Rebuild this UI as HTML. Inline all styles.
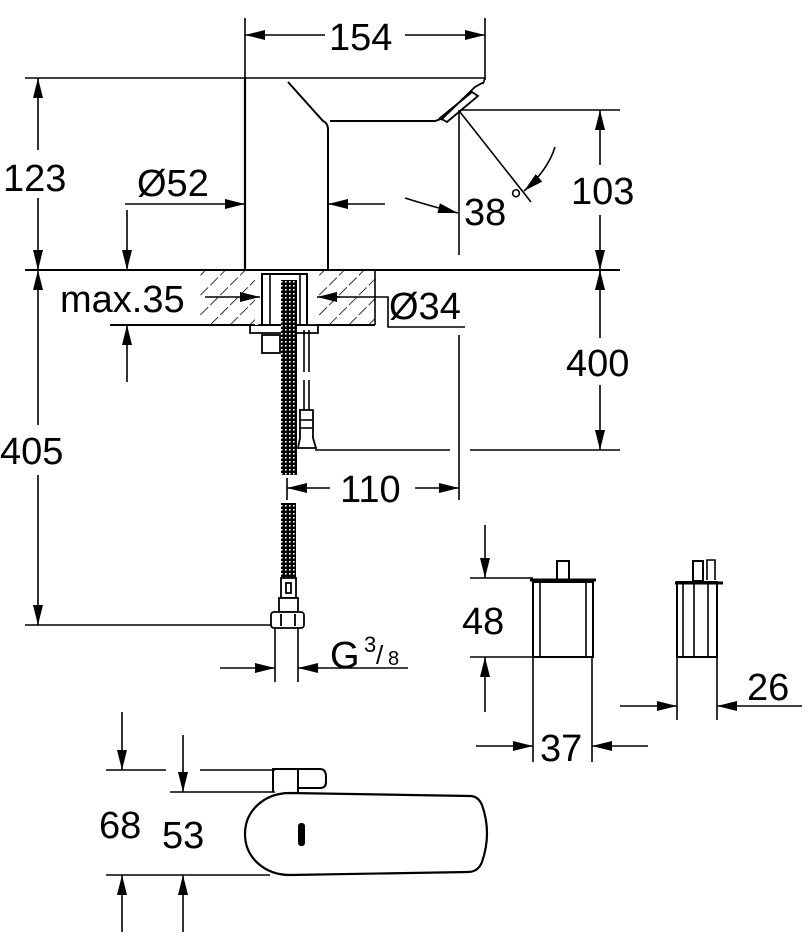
<!DOCTYPE html>
<html><head><meta charset="utf-8"><style>
html,body{margin:0;padding:0;background:#fff;}
svg{display:block;}
text{font-family:"Liberation Sans",Arial,sans-serif;fill:#000;}
</style></head><body>
<svg width="812" height="942" viewBox="0 0 812 942" xmlns="http://www.w3.org/2000/svg">
<defs>
<marker id="a" viewBox="0 0 20 10" refX="20" refY="5" markerWidth="20" markerHeight="10" markerUnits="userSpaceOnUse" orient="auto"><path d="M0,0 L20,5 L0,10 z" fill="#000"/></marker>
<pattern id="braid" width="4" height="4" patternUnits="userSpaceOnUse"><rect width="4" height="4" fill="#000"/><rect x="1" y="1" width="1.6" height="1.6" fill="#fff"/></pattern>
<pattern id="hatch" width="14" height="14" patternUnits="userSpaceOnUse" patternTransform="rotate(45)"><line x1="0" y1="0" x2="0" y2="14" stroke="#000" stroke-width="1.6" stroke-dasharray="11 3"/></pattern>
</defs>
<g stroke="#000" stroke-width="1.6" fill="none">
<line x1="245" y1="18" x2="245" y2="270"/>
<line x1="485" y1="18" x2="485" y2="80"/>
<line x1="325" y1="35" x2="245" y2="35" marker-end="url(#a)"/>
<line x1="405" y1="35" x2="485" y2="35" marker-end="url(#a)"/>
<path d="M245,78 L485,78 L483,84"/>
<path d="M288,82 L323,121 Q328,123 328,130 L328,270" stroke-width="2"/>
<path d="M330,121 L435,121 Q440,120 445,115" stroke-width="2"/>
<path d="M441,120 L475,87 L484,82 M447,122 L478,96 L472,92 L440,118 Z" stroke-width="1.8"/>
<line x1="245" y1="78" x2="245" y2="270" stroke-width="2.2"/>
<line x1="25" y1="78" x2="245" y2="78"/>
<line x1="38" y1="150" x2="38" y2="78" marker-end="url(#a)"/>
<line x1="38" y1="198" x2="38" y2="270" marker-end="url(#a)"/>
<line x1="125" y1="204" x2="245" y2="204" marker-end="url(#a)"/>
<line x1="385" y1="204" x2="328" y2="204" marker-end="url(#a)"/>
<line x1="460" y1="110" x2="620" y2="110"/>
<line x1="600" y1="165" x2="600" y2="110" marker-end="url(#a)"/>
<line x1="600" y1="215" x2="600" y2="270" marker-end="url(#a)"/>
<line x1="459" y1="110" x2="459" y2="255"/>
<line x1="460" y1="112" x2="531" y2="202"/>
<path d="M405,198 Q430,206 458,213" marker-end="url(#a)"/>
<path d="M555,147 Q548,170 524,191" marker-end="url(#a)"/>
<line x1="25" y1="270" x2="620" y2="270" stroke-width="2"/>
<rect x="200" y="271" width="175" height="54" fill="url(#hatch)" stroke="none"/>
<line x1="110" y1="325" x2="375" y2="325" stroke-width="2"/>
<rect x="255" y="271" width="62" height="54" fill="#fff" stroke="none"/>
<rect x="262" y="274" width="45" height="51" stroke-width="2"/>
<line x1="270" y1="275" x2="270" y2="325"/>
<line x1="300" y1="275" x2="300" y2="325"/>
<path d="M250,325 L250,333 L258,333 M258,325 L318,325 L318,333 L258,333" stroke-width="1.8"/>
<rect x="262" y="335" width="18" height="18" stroke-width="1.8"/>
<line x1="375" y1="270" x2="375" y2="325"/>
<line x1="127" y1="210" x2="127" y2="270" marker-end="url(#a)"/>
<line x1="127" y1="382" x2="127" y2="325" marker-end="url(#a)"/>
<line x1="205" y1="297" x2="260" y2="297" marker-end="url(#a)"/>
<line x1="340" y1="297" x2="317" y2="297" marker-end="url(#a)"/>
<path d="M335,297 L388,297 L388,327 L465,327"/>
<line x1="600" y1="338" x2="600" y2="270" marker-end="url(#a)"/>
<line x1="600" y1="385" x2="600" y2="450" marker-end="url(#a)"/>
<line x1="315" y1="450" x2="450" y2="450"/>
<line x1="470" y1="450" x2="620" y2="450"/>
<line x1="459" y1="335" x2="459" y2="500"/>
<line x1="330" y1="488" x2="287" y2="488" marker-end="url(#a)"/>
<line x1="415" y1="488" x2="459" y2="488" marker-end="url(#a)"/>
<line x1="287" y1="478" x2="287" y2="500"/>
<line x1="38" y1="425" x2="38" y2="270" marker-end="url(#a)"/>
<line x1="38" y1="475" x2="38" y2="625" marker-end="url(#a)"/>
<line x1="25" y1="625" x2="275" y2="625"/>
<line x1="304" y1="330" x2="304" y2="372"/>
<line x1="309" y1="330" x2="309" y2="372"/>
<line x1="304" y1="380" x2="304" y2="410"/>
<line x1="309" y1="380" x2="309" y2="410"/>
<path d="M300,410 L313,410 L313,438 L316,448 L298,448 L300,438 Z" fill="#fff" stroke-width="1.8"/>
<line x1="301" y1="420" x2="312" y2="420"/><line x1="301" y1="428" x2="312" y2="428"/>
</g>
<rect x="281" y="280" width="16" height="195" fill="url(#braid)"/>
<rect x="281" y="503" width="15" height="78" fill="url(#braid)"/>
<g stroke="#000" stroke-width="1.8" fill="#fff">
<rect x="281" y="578" width="15" height="20"/>
<rect x="286" y="583" width="5" height="10"/>
<rect x="279" y="598" width="19" height="14"/>
<rect x="271" y="612" width="33" height="16" rx="3"/>
<line x1="281" y1="614" x2="281" y2="626"/><line x1="295" y1="614" x2="295" y2="626"/>
</g>
<g stroke="#000" stroke-width="1.6" fill="none">
<line x1="275" y1="628" x2="275" y2="682"/>
<line x1="298" y1="628" x2="298" y2="682"/>
<line x1="220" y1="668" x2="275" y2="668" marker-end="url(#a)"/>
<line x1="408" y1="668" x2="298" y2="668" marker-end="url(#a)"/>
<rect x="533" y="582" width="60" height="75" stroke-width="2"/>
<line x1="540" y1="582" x2="540" y2="657"/><line x1="586" y1="582" x2="586" y2="657"/>
<line x1="530" y1="580" x2="596" y2="580" stroke-width="3"/>
<rect x="557" y="561" width="12" height="19" stroke-width="2"/>
<line x1="470" y1="578" x2="533" y2="578"/>
<line x1="470" y1="657" x2="533" y2="657"/>
<line x1="485" y1="525" x2="485" y2="578" marker-end="url(#a)"/>
<line x1="485" y1="712" x2="485" y2="657" marker-end="url(#a)"/>
<line x1="533" y1="657" x2="533" y2="762"/>
<line x1="592" y1="657" x2="592" y2="762"/>
<line x1="476" y1="746" x2="533" y2="746" marker-end="url(#a)"/>
<line x1="648" y1="746" x2="592" y2="746" marker-end="url(#a)"/>
<rect x="677" y="582" width="40" height="75" stroke-width="2"/>
<line x1="683" y1="582" x2="683" y2="657"/><line x1="694" y1="582" x2="694" y2="657"/><line x1="708" y1="582" x2="708" y2="657"/>
<line x1="675" y1="583" x2="723" y2="583" stroke-width="3"/>
<rect x="693" y="561" width="10" height="20" stroke-width="2"/>
<path d="M707,580 L707,560 L715,560 L715,580"/>
<line x1="677" y1="657" x2="677" y2="720"/>
<line x1="717" y1="657" x2="717" y2="720"/>
<line x1="620" y1="706" x2="677" y2="706" marker-end="url(#a)"/>
<line x1="802" y1="706" x2="717" y2="706" marker-end="url(#a)"/>
<line x1="106" y1="770" x2="166" y2="770"/>
<line x1="200" y1="770" x2="275" y2="770"/>
<line x1="170" y1="792" x2="275" y2="792"/>
<line x1="106" y1="875" x2="270" y2="875"/>
<line x1="122" y1="712" x2="122" y2="770" marker-end="url(#a)"/>
<line x1="122" y1="932" x2="122" y2="875" marker-end="url(#a)"/>
<line x1="183" y1="735" x2="183" y2="792" marker-end="url(#a)"/>
<line x1="183" y1="932" x2="183" y2="875" marker-end="url(#a)"/>
<path d="M290,793 L470,796 Q478,796 482,805 Q492,833 482,862 Q478,872 468,872 L290,875 C265,875 245,858 245,834 C245,810 265,793 290,793 Z" stroke-width="2.2"/>
<path d="M273,792 L273,769 L320,769 Q326,769 326,777 L326,782 Q326,788 320,788 L298,788 L298,792 M298,769 L298,788" stroke-width="2"/>
</g>
<rect x="298" y="823" width="7" height="23" rx="3" fill="#000"/>
<g font-size="38">
<text x="329" y="50">154</text>
<text x="3" y="191">123</text>
<text x="137" y="196">Ø52</text>
<text x="571" y="204">103</text>
<text x="464" y="225">38</text>
<text x="510" y="210" font-size="30">°</text>
<text x="60" y="312">max.35</text>
<text x="389" y="319">Ø34</text>
<text x="566" y="376">400</text>
<text x="0" y="464">405</text>
<text x="340" y="502">110</text>
<text x="330" y="668">G</text>
<text x="364" y="652" font-size="22">3</text>
<text x="376" y="664" font-size="26">/</text>
<text x="388" y="665" font-size="20">8</text>
<text x="462" y="634">48</text>
<text x="540" y="761">37</text>
<text x="747" y="700">26</text>
<text x="99" y="838">68</text>
<text x="162" y="848">53</text>
</g>
</svg>
</body></html>
